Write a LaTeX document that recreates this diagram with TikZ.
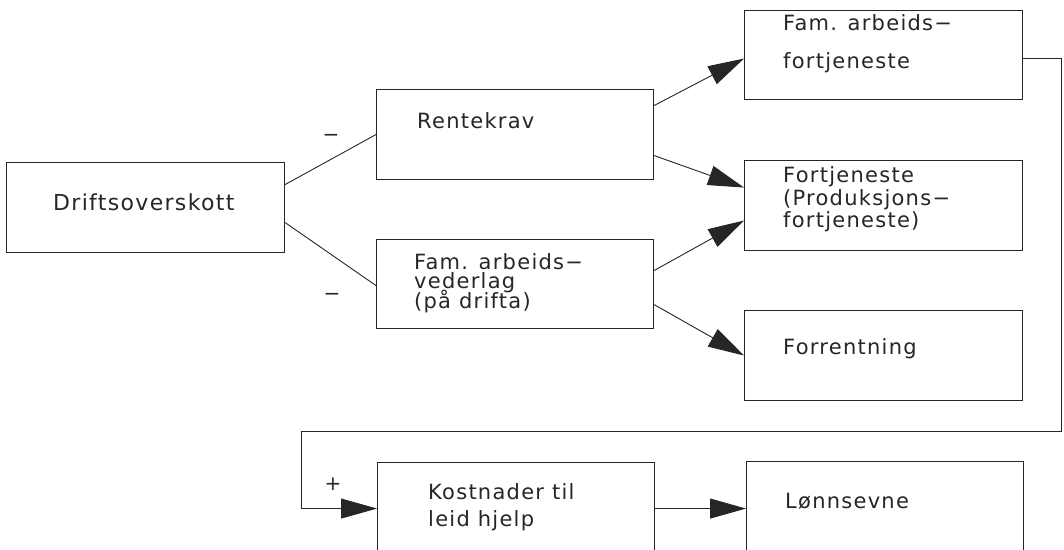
\documentclass[tikz,border=0pt]{standalone}
\usepackage{fontspec}
\setmainfont{DejaVu Sans}[LetterSpace=6]
\usetikzlibrary{arrows.meta}

\begin{document}
\begin{tikzpicture}[x=1pt,y=-1pt,
  box/.style={draw=black!85, line width=1.1pt, anchor=north west, inner sep=0pt,
              minimum width=278pt, minimum height=90pt},
  lbl/.style={anchor=base west, inner sep=0pt, text=black!85, font=\fontsize{21}{24}\selectfont},
  sign/.style={inner sep=0pt, text=black!85, font=\fontsize{20}{24}\selectfont},
  link/.style={draw=black!85, line width=0.9pt},
  arr/.style={link, -{Triangle[length=36pt,width=20pt]}}]

\useasboundingbox (0,0) rectangle (1064,549);
\clip (0,0) rectangle (1064,549);

% boxes
\node[box] (drift) at (6,162) {};
\node[box, minimum width=277pt] (rente) at (376,89) {};
\node[box, minimum width=277pt, minimum height=89pt] (verd) at (376,239) {};
\node[box, minimum height=89pt] (fam) at (744,10) {};
\node[box] (fort) at (744,160) {};
\node[box] (forr) at (744,310) {};
\node[box, minimum width=277pt, minimum height=92pt] (kost) at (377,462) {};
\node[box, minimum width=277pt, minimum height=94pt] (lonn) at (746,461) {};

% box texts
\node[lbl, font=\fontsize{22}{24}\selectfont] (tdrift) at (53,210) {Driftsoverskott};
\node[lbl] (trente) at (417,128) {Rentekrav};
\node[lbl] (tverd1) at (414,269) {Fam. arbeids−};
\node[lbl] (tverd2) at (414,288.5) {vederlag};
\node[lbl] (tverd3) at (414,308) {(på drifta)};
\node[lbl] (tfam1) at (783,30) {Fam. arbeids−};
\node[lbl] (tfam2) at (783,68) {fortjeneste};
\node[lbl] (tfort1) at (783,182) {Fortjeneste};
\node[lbl] (tfort2) at (783,205) {(Produksjons−};
\node[lbl] (tfort3) at (783,227) {fortjeneste)};
\node[lbl] (tforr) at (783,354) {Forrentning};
\node[lbl] (tkost1) at (428,499) {Kostnader til};
\node[lbl] (tkost2) at (428,526) {leid hjelp};
\node[lbl] (tlonn) at (785,508) {Lønnsevne};

% signs
\node[sign] (m1) at (331,138) {−};
\node[sign] (m2) at (332,297) {−};
\node[sign] (p1) at (333,484) {+};

% connectors
\draw[link] ([yshift=23pt]drift.east) -- (rente.west);
\draw[link] ([yshift=-15pt]drift.east) -- ([yshift=-1.5pt]verd.west);
\draw[arr] ([yshift=29pt]rente.east) -- ([yshift=-3.5pt]fam.west);
\draw[arr] ([yshift=-21pt]rente.east) -- ([yshift=18pt]fort.west);
\draw[arr] ([yshift=13.5pt]verd.east) -- ([yshift=-15pt]fort.west);
\draw[arr] ([yshift=-20.5pt]verd.east) -- (forr.west);

% feedback loop
\coordinate (c1) at (1061,431);
\coordinate (c2) at (301,431);
\draw[arr] ([yshift=-3.5pt]fam.east) -| (c1) -- (c2) |- (kost.west);
\draw[arr] (kost.east) -- (lonn.west);
\end{tikzpicture}
\end{document}
